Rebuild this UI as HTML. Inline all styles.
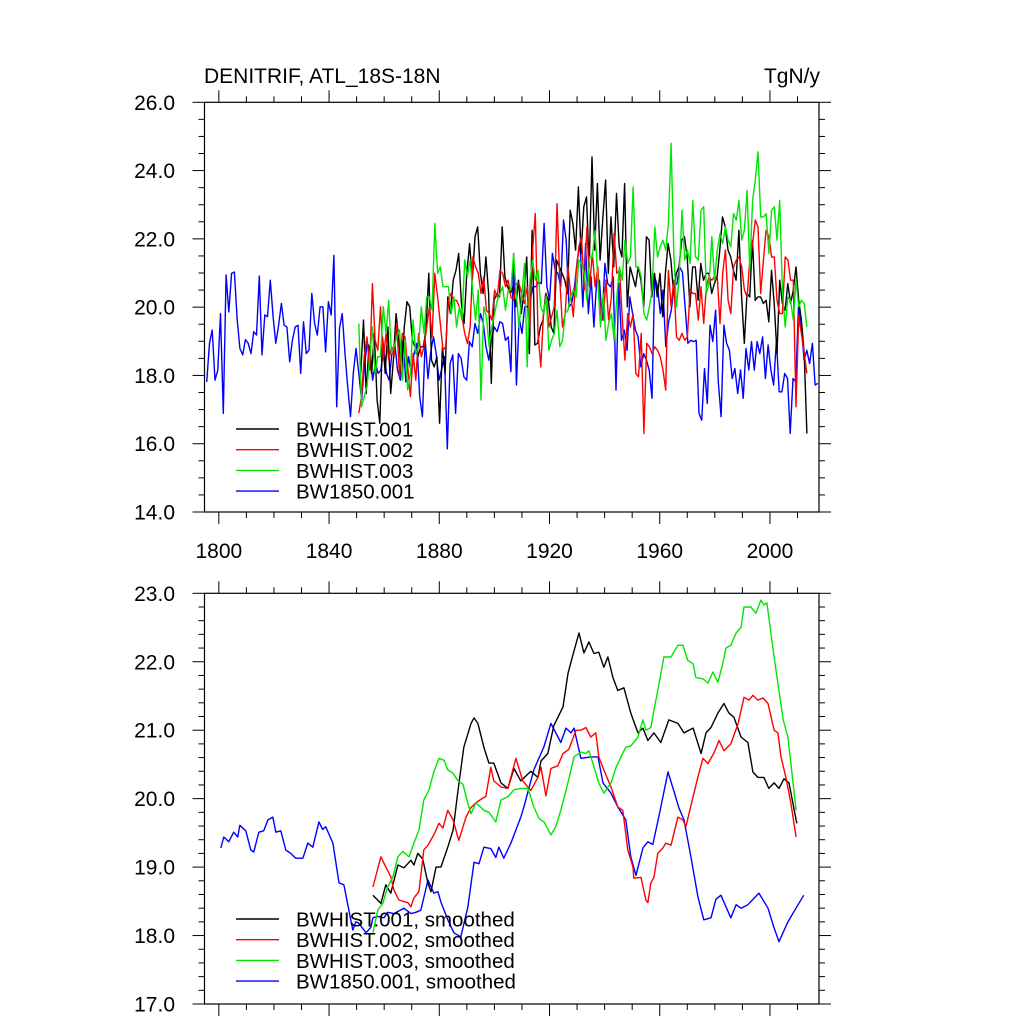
<!DOCTYPE html>
<html><head><meta charset="utf-8"><style>
html,body{margin:0;padding:0;background:#fff;}
svg{display:block;font-family:"Liberation Sans",sans-serif;}
</style></head><body>
<svg id="chart" width="1024" height="1024" viewBox="0 0 1024 1024" xmlns="http://www.w3.org/2000/svg">
<text x="204" y="83" font-size="21">DENITRIF, ATL_18S-18N</text>
<text x="820" y="83" font-size="21" text-anchor="end">TgN/y</text>
<g id="top"></g>
<g id="bot"></g>
</svg>
<script>
// ---- data: raw annual series ----
const blueRange = [1795.6, 2017.4];
const blueRaw = [17.81,18.94,19.33,17.86,18.16,19.81,16.89,20.94,19.86,20.99,21.03,19.67,18.79,18.6,19.05,18.94,18.64,19.28,19.18,20.91,18.6,19.77,19.72,20.79,19.72,18.94,19.47,20.11,19.47,19.42,18.4,19.03,19.42,19.47,18.06,19.57,18.64,18.74,20.4,19.52,19.18,20.01,20.01,18.69,20.16,19.77,21.52,17.08,19.38,19.81,18.64,17.67,16.79,18.06,18.79,18.06,17.28,18.25,18.94,18.84,17.86,18.35,18.06,18.16,18.79,18.06,17.86,18.69,18.94,18.16,17.86,19.03,17.81,18.55,18.06,18.64,18.94,17.38,16.79,19.03,17.91,18.69,19.13,18.64,17.86,18.2,18.55,15.85,18.35,18.6,16.89,18.64,18.5,17.96,17.86,18.99,18.84,19.52,19.23,19.81,19.52,18.84,18.45,19.08,19.42,19.28,19.57,19.52,19.03,19.13,18.11,
21.57,17.72,19.67,19.23,20.01,20.01,20.2,20.6,20.6,20.74,20.69,22.45,20.6,20.2,21.57,21.08,20.99,20.6,22.55,21.96,20.01,20.11,20.6,21.38,21.86,20.01,21.86,19.81,20.89,19.42,20.79,20.79,19.62,21.28,20.69,20.6,20.89,17.57,20.69,19.03,19.33,18.74,20.3,19.81,19.33,19.13,18.25,18.64,18.45,18.16,17.33,20.89,20.6,19.81,20.5,18.84,19.57,19.91,20.6,20.69,21.18,21.03,20.01,18.94,19.03,18.99,19.03,16.89,16.69,18.2,17.18,19.47,18.99,19.91,17.81,16.79,19.47,18.94,18.74,17.91,18.2,17.47,18.16,17.33,18.79,18.16,18.99,18.16,18.99,18.64,19.13,17.91,18.89,18.16,17.72,19.03,17.52,17.52,18.06,17.91,16.3,17.91,17.81,20.06,19.42,18.45,18.74,18.35,18.94,17.72,17.77];
const blackRange = [1851.5, 2013.4];
const blackRaw = [18.06,19.62,17.47,18.84,18.06,19.23,17.28,16.6,19.13,18.06,19.42,17.47,18.45,19.81,19.03,18.06,19.42,20.16,20.01,19.03,18.84,18.55,18.84,18.84,19.33,20.99,18.45,18.25,18.55,16.6,18.84,18.06,20.3,19.81,20.79,21.08,21.57,20.11,19.52,20.99,21.86,20.79,22.06,22.35,20.99,20.4,21.47,20.4,17.77,20.2,20.4,20.3,22.35,20.89,20.6,20.4,20.6,20.01,
20.79,19.81,20.4,21.47,18.64,22.25,18.89,18.94,19.42,19.62,20.4,20.2,19.42,19.23,21.38,21.18,20.99,20.79,20.4,22.84,22.45,21.67,23.52,21.57,22.94,23.23,21.18,24.4,21.67,23.62,21.38,22.64,23.72,20.99,22.64,21.18,23.33,21.77,21.47,23.62,20.01,21.18,20.89,20.6,21.18,20.79,20.01,22.06,21.96,20.3,20.99,20.3,20.99,19.72,20.99,21.86,21.38,20.4,20.99,21.18,21.96,22.06,21.47,20.01,21.18,21.18,20.2,21.28,20.79,20.99,20.99,20.4,20.69,20.89,21.67,22.64,22.35,21.67,21.47,21.08,20.79,22.25,20.3,18.94,20.4,20.3,21.96,20.2,20.3,20.3,20.11,20.2,19.57,21.08,20.11,18.64,20.79,20.11,19.91,20.69,20.11,20.5,21.18,20.2,19.62,18.64,16.3];
const redRange = [1850.8, 2013.4];
const redRaw = [16.89,17.38,18.55,19.13,18.16,20.69,19.03,18.74,20.01,18.45,19.23,18.45,18.84,18.55,19.52,17.96,19.23,19.13,18.25,17.38,18.64,17.86,19.23,18.55,18.84,19.42,20.01,19.13,20.99,20.3,19.52,18.74,18.84,20.2,20.4,20.2,20.2,20.01,19.72,19.23,18.94,19.42,21.47,21.18,20.99,20.4,20.89,19.91,19.81,19.62,20.5,20.3,21.08,20.99,20.6,20.79,20.3,20.2,20.69,
20.69,20.4,20.11,20.6,19.42,21.67,22.74,19.23,18.25,19.81,20.4,19.42,19.72,20.01,23.03,20.79,19.42,19.81,21.18,20.4,19.72,20.99,21.77,22.06,20.5,22.35,20.6,21.57,20.6,21.18,19.72,19.62,20.79,19.62,20.3,22.16,20.99,21.08,19.72,18.45,19.81,19.42,19.81,18.06,17.96,19.23,16.3,18.94,18.84,18.64,18.84,18.74,18.55,18.16,17.57,21.08,20.01,20.79,19.13,19.03,19.23,19.03,19.13,20.5,20.4,20.4,19.62,20.6,19.52,20.6,20.89,20.79,20.89,20.89,19.52,20.99,21.67,20.2,19.81,21.18,21.38,21.47,21.18,20.5,20.3,21.38,21.86,22.55,22.35,20.4,21.38,22.25,22.06,21.47,21.47,20.2,19.81,19.81,21.47,21.38,20.79,20.79,17.08,19.72,19.23,18.64,18.06];
const greenRange = [1850.8, 2013.4];
const greenRaw = [19.52,17.08,17.38,17.67,18.55,19.42,18.06,18.55,18.55,20.01,19.23,20.2,18.64,18.84,19.13,19.33,17.86,19.03,17.57,18.06,19.62,18.64,18.84,20.01,19.23,20.3,20.3,19.91,22.45,20.99,21.18,20.6,20.6,20.6,19.81,20.3,19.42,20.01,19.62,21.38,20.89,21.38,20.4,19.62,20.5,17.28,20.01,19.72,18.84,19.42,19.81,20.2,20.4,20.6,19.91,20.5,20.5,21.57,20.4,
19.42,20.3,21.28,18.25,20.79,21.38,20.79,21.08,20.01,19.81,20.3,18.74,19.03,19.23,19.91,18.84,19.03,19.81,19.91,20.3,20.5,20.3,21.38,21.28,20.99,20.2,21.47,21.47,22.25,20.79,19.42,20.4,19.03,19.52,19.81,19.03,20.3,21.18,20.79,21.96,21.28,21.47,23.52,21.18,21.18,20.89,19.81,19.62,20.01,20.5,22.35,21.47,21.77,21.96,21.67,22.45,24.8,21.57,20.01,20.89,22.84,21.38,21.67,21.28,23.13,21.47,21.38,22.84,22.94,20.4,20.69,22.06,20.79,21.67,22.16,21.86,22.35,21.96,21.77,22.74,22.55,23.13,21.96,22.25,23.42,21.08,23.13,23.72,24.55,22.64,22.64,22.74,21.57,22.84,22.94,21.96,23.13,20.5,19.42,20.3,20.2,19.62,20.79,20.01,20.2,20.11,19.42];
// ---- data: smoothed series (year, value) ----
const blueSmYears = [1800.7,1801.8,1803.6,1805.4,1806.9,1807.6,1809.8,1811.6,1812.7,1814.5,1816.3,1817.8,1819.6,1820.7,1822.5,1824.3,1826.1,1827.9,1830.5,1832.3,1834.1,1836.3,1837.7,1838.8,1841.4,1843.6,1845.4,1847.2,1848.6,1849.7,1850.8,1853.4,1855.2,1855.9,1857.7,1859.9,1861.3,1863.5,1867.2,1869.7,1871.5,1873.3,1875.9,1878.0,1879.5,1880.6,1883.1,1885.3,1887.8,1890.4,1892.6,1894.4,1896.2,1898.7,1900.5,1901.6,1903.4,1906.0,1909.6,1910.7,1914.3,1918.0,1920.5,1924.1,1926.0,1927.8,1928.9,1931.4,1935.0,1937.6,1939.4,1942.3,1944.8,1947.7,1949.5,1951.4,1953.9,1955.7,1957.5,1959.7,1963.0,1965.2,1967.0,1968.8,1971.3,1973.9,1976.0,1978.6,1980.4,1982.2,1985.8,1987.7,1989.5,1992.0,1996.0,1999.3,2001.5,2003.3,2006.5,2010.2,2012.3];
const blueSm = [19.28,19.44,19.37,19.51,19.44,19.61,19.53,19.25,19.22,19.51,19.53,19.69,19.73,19.51,19.53,19.25,19.2,19.13,19.13,19.35,19.29,19.66,19.55,19.59,19.35,18.77,18.74,18.37,18.08,18.2,18.18,18.04,18.12,18.26,18.28,18.26,18.34,18.32,18.4,18.32,18.34,18.37,18.81,18.62,18.64,18.49,18.23,18.04,17.98,18.42,19.07,19.05,19.29,19.27,19.14,19.29,19.13,19.35,19.73,19.88,20.42,20.76,21.1,20.82,21.03,20.96,21.03,20.59,20.61,20.61,20.23,20.08,19.88,19.69,19.15,18.88,19.28,19.37,19.33,19.74,20.39,20.1,19.86,19.69,19.15,18.56,18.23,18.26,18.53,18.59,18.26,18.45,18.4,18.45,18.62,18.4,18.11,17.91,18.2,18.45,18.59];
const blackSmYears = [1855.9,1858.8,1860.6,1862.4,1865.0,1867.2,1869.7,1870.8,1872.2,1874.0,1875.9,1877.0,1878.8,1880.6,1883.1,1885.0,1886.8,1888.9,1891.5,1892.6,1894.0,1896.2,1898.0,1899.8,1902.4,1904.9,1907.1,1909.6,1913.2,1915.8,1916.9,1919.4,1921.6,1924.9,1926.7,1928.5,1930.7,1932.5,1934.3,1936.1,1937.9,1939.7,1941.2,1943.0,1944.8,1947.0,1949.5,1952.1,1953.9,1955.7,1957.9,1960.4,1963.3,1966.6,1968.8,1972.1,1975.0,1976.8,1978.6,1981.1,1983.3,1985.1,1986.9,1989.5,1992.0,1993.8,1995.6,1997.8,1999.6,2001.5,2003.3,2005.1,2006.9,2009.5,2009.8];
const blackSm = [18.59,18.47,18.74,18.62,19.03,18.99,19.1,19.03,19.2,19.12,18.76,18.64,19.0,19.0,19.29,19.54,20.12,20.75,21.1,21.18,21.1,20.75,20.52,20.52,20.23,20.15,20.44,20.26,20.4,20.31,20.55,20.66,21.07,21.34,21.83,22.1,22.42,22.13,22.29,22.12,22.14,21.92,22.07,21.77,21.58,21.62,21.25,20.96,21.03,20.85,20.96,20.82,21.15,21.1,20.96,21.03,20.66,20.96,21.04,21.25,21.39,21.25,21.19,20.9,20.82,20.39,20.31,20.31,20.15,20.23,20.15,20.29,20.23,19.69,19.64];
const redSmYears = [1855.9,1858.8,1860.6,1862.4,1863.5,1865.3,1868.6,1869.7,1870.8,1872.6,1874.4,1875.9,1878.0,1879.9,1881.3,1883.1,1885.0,1887.1,1889.7,1891.5,1893.3,1895.8,1896.9,1898.7,1899.8,1902.4,1904.9,1907.8,1910.3,1913.2,1915.8,1916.9,1918.7,1920.5,1923.0,1924.9,1927.0,1929.6,1931.4,1933.2,1935.0,1936.8,1937.9,1939.7,1942.3,1944.8,1946.6,1948.4,1950.3,1950.6,1953.2,1955.0,1955.7,1956.8,1957.9,1959.3,1961.2,1962.2,1964.1,1966.6,1968.4,1969.5,1972.1,1973.9,1975.7,1977.5,1979.7,1981.5,1983.3,1985.8,1988.4,1990.6,1992.4,1993.8,1995.6,1997.5,1999.3,2001.5,2002.9,2004.0,2005.8,2007.6,2009.5];
const redSm = [18.71,19.15,19.0,18.86,18.67,18.52,18.48,18.42,18.55,18.64,19.25,19.32,19.47,19.64,19.57,19.83,19.69,19.39,19.73,19.87,19.94,20.01,20.03,20.46,20.26,20.17,20.15,20.59,20.26,20.12,20.31,20.46,20.04,20.44,20.48,20.66,20.72,21.0,21.0,21.04,20.9,20.96,20.61,20.42,20.17,19.88,19.83,19.25,19.0,18.84,18.85,18.52,18.48,18.77,18.85,19.2,19.28,19.35,19.32,19.73,19.69,19.59,20.03,20.32,20.59,20.51,20.67,20.85,20.7,20.8,21.09,21.48,21.44,21.51,21.44,21.47,21.39,21.0,20.96,20.61,20.31,19.93,19.44];
const greenSmYears = [1855.9,1857.7,1859.5,1861.3,1863.2,1865.0,1866.8,1869.0,1870.8,1872.6,1874.4,1876.2,1878.0,1879.9,1881.7,1883.1,1885.0,1886.8,1888.6,1890.4,1891.5,1893.3,1895.1,1896.2,1898.0,1900.5,1902.4,1904.9,1907.1,1909.6,1912.2,1914.3,1916.2,1918.0,1920.5,1922.3,1924.1,1926.0,1927.8,1928.9,1931.4,1933.2,1934.3,1935.8,1937.9,1939.7,1942.3,1944.1,1945.9,1947.7,1949.5,1952.1,1953.9,1955.0,1956.8,1957.9,1959.3,1961.5,1964.1,1966.6,1968.4,1970.2,1972.1,1973.1,1975.7,1977.5,1979.3,1981.1,1982.9,1984.0,1985.8,1987.7,1989.5,1990.6,1993.1,1994.9,1996.7,1997.8,1998.9,2001.5,2004.8,2006.5,2009.5];
const greenSm = [18.04,18.37,18.47,18.71,18.86,19.15,19.23,19.15,19.35,19.54,19.98,20.12,20.39,20.59,20.56,20.42,20.37,20.26,20.21,19.93,19.78,19.94,19.87,19.83,19.8,19.66,19.98,20.03,20.13,20.15,20.15,19.88,19.71,19.66,19.47,19.59,19.83,20.12,20.42,20.61,20.68,20.66,20.7,20.51,20.23,20.08,20.23,20.45,20.61,20.75,20.77,20.9,21.15,21.0,21.04,21.29,21.58,22.07,22.07,22.24,22.24,22.02,21.97,21.77,21.75,21.69,21.85,21.7,21.97,22.2,22.24,22.42,22.5,22.8,22.8,22.71,22.9,22.83,22.86,22.07,21.15,20.9,19.83];
// ---- tick labels ----
const xTickYears = [1800,1840,1880,1920,1960,2000];
const topYTicks = [14,16,18,20,22,24,26];
const botYTicks = [17,18,19,20,21,22,23];
const topLegend = ["BWHIST.001","BWHIST.002","BWHIST.003","BW1850.001"];
const botLegend = ["BWHIST.001, smoothed","BWHIST.002, smoothed","BWHIST.003, smoothed","BW1850.001, smoothed"];
const colors = ["#000000","#ff0000","#00e600","#0000ff"];

const NS = "http://www.w3.org/2000/svg";
const L = 204.5, R = 819, X0 = 1794.8, X1 = 2017.8;
function xs(yr){ return L + (yr - X0) / (X1 - X0) * (R - L); }
function mk(tag, attrs, parent){ const e = document.createElementNS(NS, tag); for (const k in attrs) e.setAttribute(k, attrs[k]); parent.appendChild(e); return e; }

function panel(g, T, B, ymin, ymax, yTicks, minorStep, showXLabels, legend, series, legendY) {
  const ys = v => B - (v - ymin) / (ymax - ymin) * (B - T);
  const frame = mk("rect", {x:L, y:T, width:R-L, height:B-T, fill:"none", stroke:"#000", "stroke-width":1.2}, g);
  
  
  for (let yr = 1800; yr <= 2010; yr += 10) {
    const x = xs(yr), major = (yr % 40 === 0);
    const len = major ? 12 : 6;
    mk("line", {x1:x, y1:B, x2:x, y2:B+len, stroke:"#000", "stroke-width":1}, g);
    mk("line", {x1:x, y1:T, x2:x, y2:T-len, stroke:"#000", "stroke-width":1}, g);
  }
  const step = yTicks[1]-yTicks[0];
  for (let v = ymin; v <= ymax + 1e-6; v += minorStep) {
    const y = ys(v);
    const major = Math.abs(v - Math.round(v / step) * step) < 1e-6;
    const len = major ? 12 : 6;
    mk("line", {x1:L, y1:y, x2:L-len, y2:y, stroke:"#000", "stroke-width":1}, g);
    mk("line", {x1:R, y1:y, x2:R+len, y2:y, stroke:"#000", "stroke-width":1}, g);
  }
  yTicks.forEach(v => {
    const t = mk("text", {x:175, y:ys(v)+7.5, "font-size":21, "text-anchor":"end"}, g);
    t.textContent = v.toFixed(1);
    
    
  });
  if (showXLabels) xTickYears.forEach(yr => {
    const t = mk("text", {x:xs(yr), y:B+46, "font-size":21, "text-anchor":"middle"}, g);
    t.textContent = yr;
    
    
  });
  const order = [3,0,1,2];
  order.forEach(i => {
    const s = series[i];
    let d = "";
    s.vals.forEach((v, k) => {
      const yr = s.years ? s.years[k] : s.range[0] + k * (s.range[1]-s.range[0]) / (s.vals.length - 1);
      d += (k ? "L" : "M") + xs(yr).toFixed(1) + "," + ys(v).toFixed(1);
    });
    const p = mk("path", {d:d, fill:"none", stroke:colors[i], "stroke-width":1.4, "stroke-linejoin":"round"}, g);
    
    
  });
  legend.forEach((name, i) => {
    const y = legendY + i * 20.7;
    const ln = mk("line", {x1:236, y1:y, x2:279, y2:y, stroke:colors[i], "stroke-width":1.4}, g);
    
    
    const t = mk("text", {x:296, y:y+7.5, "font-size":20.5}, g);
    t.textContent = name;
    
    
  });
}

panel(document.getElementById("top"), 102.3, 512, 14, 26, topYTicks, 0.5, true, topLegend, [
  {vals: blackRaw, range: blackRange},
  {vals: redRaw, range: redRange},
  {vals: greenRaw, range: greenRange},
  {vals: blueRaw, range: blueRange}
], 429);
panel(document.getElementById("bot"), 593.3, 1004, 17, 23, botYTicks, 0.2, false, botLegend, [
  {vals: blackSm, years: blackSmYears},
  {vals: redSm, years: redSmYears},
  {vals: greenSm, years: greenSmYears},
  {vals: blueSm, years: blueSmYears}
], 919);
</script>
</body></html>
